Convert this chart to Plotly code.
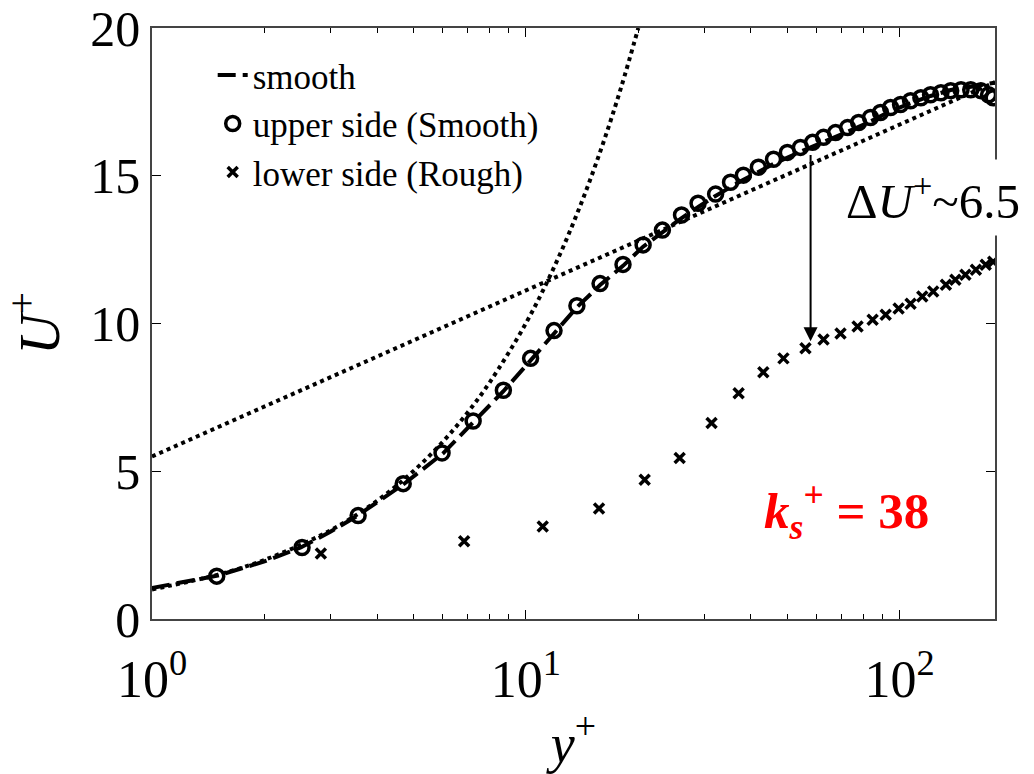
import plotly.graph_objects as go
import numpy as np

# Smooth reference profile (dashed)
smooth_x = [1, 1.5, 2, 2.5, 3, 3.5, 4, 4.7, 6, 7.2, 8.7, 10.3, 12, 13.7, 15.8, 18.2, 20.6,
            23.2, 26, 29, 32, 38, 46, 54, 63, 73, 84, 95, 107, 121, 137, 155, 170, 180]
smooth_y = [1.05, 1.47, 1.95, 2.42, 2.95, 3.45, 3.95, 4.55, 5.6, 6.65, 7.7, 8.75, 9.7, 10.55,
            11.3, 11.95, 12.6, 13.1, 13.55, 13.95, 14.3, 14.85, 15.4, 15.8, 16.15, 16.5, 16.85,
            17.2, 17.45, 17.7, 17.9, 18.0, 18.1, 18.15]

# Upper side (Smooth) - circles
upper_x = [1.49, 2.52, 3.56, 4.70, 5.97, 7.23, 8.71, 10.3, 11.9, 13.7, 15.8, 18.2, 20.6, 23.2,
           26.1, 28.9, 32.2, 35.3, 38.2, 41.9, 46.0, 50.1, 54.3, 58.5, 62.6, 67.4, 72.6, 77.7,
           83.6, 88.9, 94.6, 100.6, 107, 114, 121, 129, 137, 146, 155, 165, 173, 178]
upper_y = [1.45, 2.42, 3.50, 4.58, 5.62, 6.70, 7.74, 8.82, 9.76, 10.6, 11.35, 12.0, 12.66, 13.16,
           13.67, 14.07, 14.38, 14.78, 15.02, 15.29, 15.56, 15.79, 15.96, 16.13, 16.30, 16.46,
           16.63, 16.80, 16.97, 17.14, 17.31, 17.41, 17.54, 17.64, 17.74, 17.81, 17.88, 17.91,
           17.91, 17.88, 17.74, 17.64]

# Lower side (Rough) - crosses
lower_x = [2.83, 6.84, 11.1, 15.7, 20.8, 25.8, 31.4, 37.1, 43.2, 48.9, 56.0, 62.6, 69.5, 77.2,
           84.7, 91.8, 99.4, 107, 115, 123, 133, 141, 150, 160, 170, 178]
lower_y = [2.22, 2.63, 3.13, 3.74, 4.71, 5.45, 6.63, 7.64, 8.35, 8.82, 9.16, 9.46, 9.66, 9.90,
           10.13, 10.30, 10.51, 10.67, 10.91, 11.08, 11.31, 11.48, 11.65, 11.82, 11.99, 12.09]

# Reference laws
visc_x = [1, 1.5, 2, 3, 4, 5, 6, 7, 8, 10, 12, 14, 16, 18, 20]
log_x = [1, 1.5, 2, 3, 5, 7, 10, 15, 20, 30, 50, 70, 100, 140, 180]
kappa = 0.41
B = 5.5

SERIF = "Liberation Serif"

fig = go.Figure()
fig.add_trace(go.Scatter(x=visc_x, y=visc_x, mode="lines", showlegend=False,
                         line=dict(color="black", width=4, dash="dot", shape="spline")))
fig.add_trace(go.Scatter(x=log_x, y=[np.log(v) / kappa + B for v in log_x], mode="lines",
                         showlegend=False, line=dict(color="black", width=4, dash="dot")))
fig.add_trace(go.Scatter(x=smooth_x, y=smooth_y, mode="lines", name="smooth",
                         line=dict(color="black", width=4, dash="18px,7px")))
fig.add_trace(go.Scatter(x=upper_x, y=upper_y, mode="markers", name="upper side (Smooth)",
                         marker=dict(symbol="circle-open", size=14, color="black",
                                     line=dict(width=3.5, color="black"))))
fig.add_trace(go.Scatter(x=lower_x, y=lower_y, mode="markers", name="lower side (Rough)",
                         marker=dict(symbol="x-thin-open", size=10, color="black",
                                     line=dict(width=3.5, color="black"))))

# Delta U arrow
fig.add_annotation(x=np.log10(57.8), y=9.4, ax=np.log10(57.8), ay=15.75,
                   xref="x", yref="y", axref="x", ayref="y", text="",
                   showarrow=True, arrowhead=2, arrowsize=1.4, arrowwidth=2, arrowcolor="black")
fig.add_annotation(x=np.log10(69), y=14.25, xref="x", yref="y", xanchor="left",
                   text="Δ<i>U</i><sup>+</sup>~6.5", showarrow=False, bgcolor="white",
                   borderpad=6,
                   font=dict(family=SERIF, size=49, color="black"))
fig.add_annotation(x=np.log10(72), y=3.67, xref="x", yref="y",
                   text="<b><i>k</i><sub><i>s</i></sub><sup>+</sup> = 38</b>", showarrow=False,
                   font=dict(family=SERIF, size=51, color="red"))

fig.update_xaxes(type="log", range=[0, np.log10(180)], tickvals=[1, 10, 100],
                 ticktext=["10<sup>0</sup>", "10<sup>1</sup>", "10<sup>2</sup>"],
                 ticks="inside", ticklen=9, tickwidth=1, tickcolor="black",
                 minor=dict(ticks="inside", ticklen=5, tickwidth=1, tickcolor="black",
                            dtick="D1"),
                 showline=True, linecolor="#444", linewidth=1.5, mirror="ticks",
                 showgrid=False, zeroline=False, automargin=False,
                 ticklabelstandoff=14, ticklabeloverflow="allow",
                 tickfont=dict(family=SERIF, size=52, color="black"),
                 title=dict(text="<i>y</i><sup>+</sup>", font=dict(family=SERIF, size=54,
                                                                   color="black"), standoff=0))
fig.update_yaxes(range=[0, 20], tickvals=[0, 5, 10, 15, 20],
                 ticks="inside", ticklen=9, tickwidth=1, tickcolor="black",
                 showline=True, linecolor="#444", linewidth=1.5, mirror="ticks",
                 showgrid=False, zeroline=False, automargin=False,
                 ticklabeloverflow="allow",
                 tickfont=dict(family=SERIF, size=50, color="black"),
                 title=dict(text="<i>U</i><sup>+</sup>", font=dict(family=SERIF, size=56,
                                                                   color="black"), standoff=14))

fig.update_layout(width=1034, height=774, margin=dict(l=152, r=39, t=28, b=155),
                  plot_bgcolor="white", paper_bgcolor="white",
                  legend=dict(x=0.072, y=0.97, xanchor="left", yanchor="top",
                              bgcolor="rgba(0,0,0,0)", tracegroupgap=0, itemwidth=30,
                              font=dict(family=SERIF, size=35, color="black")))

fig.write_html("out.html")
